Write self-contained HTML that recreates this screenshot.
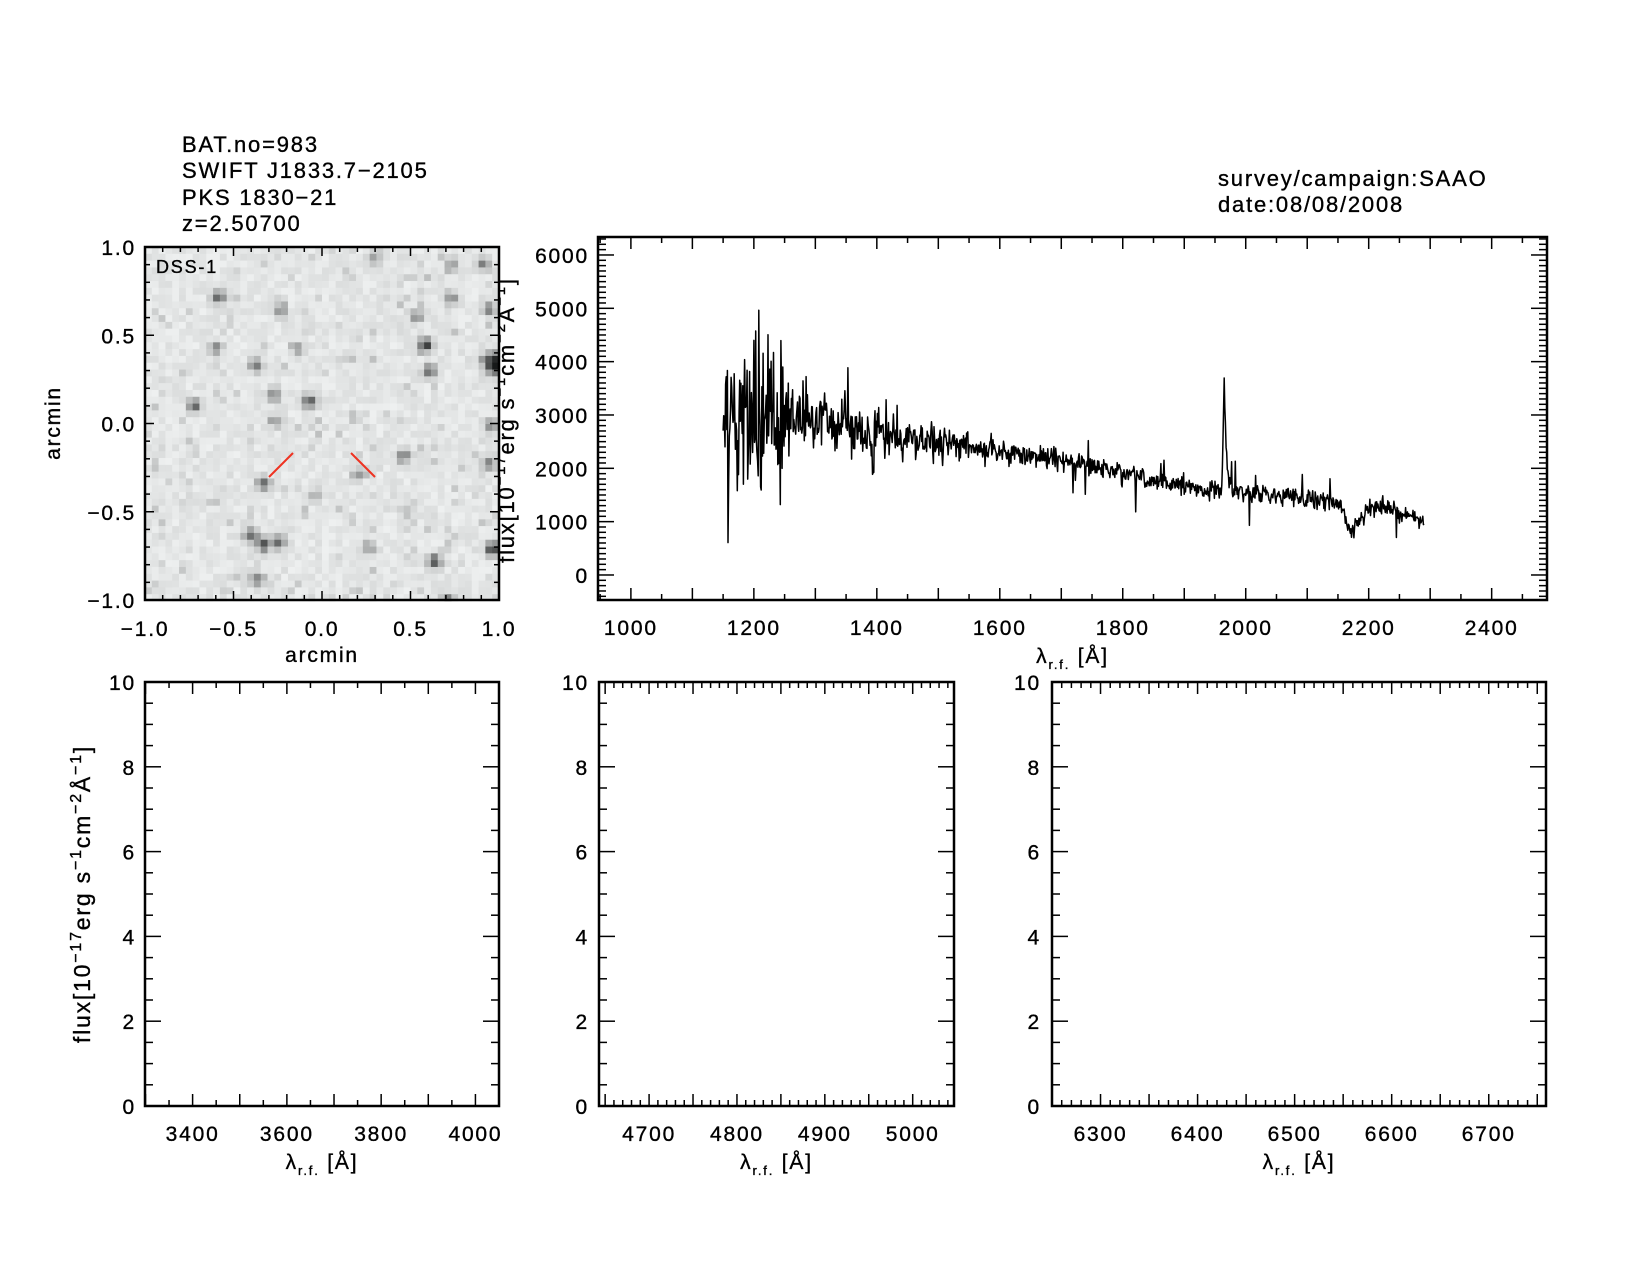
<!DOCTYPE html>
<html><head><meta charset="utf-8">
<style>
html,body{margin:0;padding:0;background:#fff;}
svg{display:block;}
text{font-family:"Liberation Sans",sans-serif;fill:#000;stroke:#000;stroke-width:0.35;letter-spacing:1.8px;}
</style></head>
<body>
<svg id="s" width="1650" height="1275" xmlns="http://www.w3.org/2000/svg">
<g font-size="22">
<text x="182" y="152">BAT.no=983</text>
<text x="182" y="178">SWIFT J1833.7−2105</text>
<text x="182" y="205">PKS 1830−21</text>
<text x="182" y="231">z=2.50700</text>
<text x="1218" y="186">survey/campaign:SAAO</text>
<text x="1218" y="212">date:08/08/2008</text>
</g>
<text font-size="22" transform="translate(514,420) rotate(-90)" text-anchor="middle">flux[10<tspan dy="-9" font-size="15">−17</tspan><tspan dy="9">erg s</tspan><tspan dy="-9" font-size="15">−1</tspan><tspan dy="9">cm</tspan><tspan dy="-9" font-size="15">−2</tspan><tspan dy="9">Å</tspan><tspan dy="-9" font-size="15">−1</tspan><tspan dy="9">]</tspan></text>
<text font-size="23" transform="translate(90,894) rotate(-90)" text-anchor="middle">flux[10<tspan dy="-9" font-size="16">−17</tspan><tspan dy="9">erg s</tspan><tspan dy="-9" font-size="16">−1</tspan><tspan dy="9">cm</tspan><tspan dy="-9" font-size="16">−2</tspan><tspan dy="9">Å</tspan><tspan dy="-9" font-size="16">−1</tspan><tspan dy="9">]</tspan></text>
<g id="g"></g>
</svg>
<script>
var NS="http://www.w3.org/2000/svg",G=document.getElementById('g');
function el(t,a,p){var e=document.createElementNS(NS,t);for(var k in a)e.setAttribute(k,a[k]);(p||G).appendChild(e);return e;}
function tx(x,y,s,a,fs){var e=el('text',{x:x,y:y,'font-size':fs||21,'text-anchor':a||'middle'});e.textContent=s;return e;}
var seed=12345;function rnd(){seed=(seed*16807)%2147483647;return seed/2147483647;}
function gauss(){return (rnd()+rnd()+rnd()+rnd()-2)*1.2;}
/* DSS image */
var L=145,T=247,W=354,H=353,N=52,ps=W/N;
var stars=[[208,282,.6],[267,295,.45],[205,330,.5],[243,347,.55],[260,375,.5],[294,381,.75],[185,385,.6],[404,327,.85],[408,352,.6],[470,345,1.1],[384,432,.5],[250,459,.6],[238,508,.6],[250,517,.7],[265,515,.6],[244,550,.5],[413,533,.75],[468,522,.85],[428,283,.4],[465,293,.5],[430,250,.35],[459,250,.5],[355,245,.35],[466,404,.4],[465,440,.5],[340,450,.35],[425,570,.5],[395,300,.4],[283,330,.3],[262,400,.35],[300,470,.3],[350,520,.35]];
var img=el('g',{});
for(var i=0;i<N;i++)for(var j=0;j<N;j++){
 var v=0.0+rnd()*0.09+(rnd()<0.12?rnd()*0.15:0);
 var cx=L+(i+.5)*ps,cy=T+(j+.5)*ps;
 for(var k=0;k<stars.length;k++){var sx=L+(stars[k][0]-138)/336*W,sy=T+(stars[k][1]-234)/336*H;var d2=((cx-sx)*(cx-sx)+(cy-sy)*(cy-sy))/(ps*ps);v+=stars[k][2]*Math.exp(-d2/(stars[k][2]>0.9?2.2:0.9));}
 if(v>1)v=1;var c=Math.round(240-v*215);
 el('rect',{x:(L+i*ps).toFixed(2),y:(T+j*ps).toFixed(2),width:(ps+.3).toFixed(2),height:(ps+.3).toFixed(2),fill:'rgb('+(c-2)+','+c+','+c+')'},img);
}
el('line',{x1:293,y1:453,x2:269,y2:477,stroke:'#e32',"stroke-width":2});
el('line',{x1:351,y1:453,x2:375,y2:477,stroke:'#e32',"stroke-width":2});
var t=tx(156,273,'DSS-1','start',18);
el('rect',{x:L,y:T,width:W,height:H,fill:'none',stroke:'#000','stroke-width':2.5});
for(var a=-1;a<=1.001;a+=0.1){var ma=Math.abs(Math.round(a*10)%5)==0,len=ma?9:5;
 var x=L+(a+1)/2*W,y=T+H-(a+1)/2*H;
 el('line',{x1:x,y1:T+H,x2:x,y2:T+H-len,stroke:'#000','stroke-width':1.5});
 el('line',{x1:x,y1:T,x2:x,y2:T+len,stroke:'#000','stroke-width':1.5});
 el('line',{x1:L,y1:y,x2:L+len,y2:y,stroke:'#000','stroke-width':1.5});
 el('line',{x1:L+W,y1:y,x2:L+W-len,y2:y,stroke:'#000','stroke-width':1.5});
}
['−1.0','−0.5','0.0','0.5','1.0'].forEach(function(s,i){
 tx(L+i*W/4,636,s);tx(136,T+H-i*H/4+8,s,'end');});
tx(322,662,'arcmin');
var ay=el('text',{transform:'translate(60,423) rotate(-90)','text-anchor':'middle','font-size':21});ay.textContent='arcmin';
/* axis helper */
function box(l,t,r,b,xmin,xmax,ymin,ymax,xminor,xmajor,yminor,ymajor,xlab,ylab,xfmt,ylx){
 el('rect',{x:l,y:t,width:r-l,height:b-t,fill:'none',stroke:'#000','stroke-width':2.5});
 var fx=function(v){return l+(v-xmin)/(xmax-xmin)*(r-l)},fy=function(v){return b-(v-ymin)/(ymax-ymin)*(b-t)};
 for(var v=Math.ceil(xmin/xminor)*xminor;v<=xmax;v+=xminor){var ma=Math.abs(v%xmajor)<1e-6,len=ma?12:6,x=fx(v);
  el('line',{x1:x,y1:b,x2:x,y2:b-len,stroke:'#000','stroke-width':1.5});el('line',{x1:x,y1:t,x2:x,y2:t+len,stroke:'#000','stroke-width':1.5});}
 for(var v=Math.ceil(ymin/yminor)*yminor;v<=ymax;v+=yminor){var ma=Math.abs(v%ymajor)<1e-6,len=ma?16:8,y=fy(v);
  el('line',{x1:l,y1:y,x2:l+len,y2:y,stroke:'#000','stroke-width':1.5});el('line',{x1:r,y1:y,x2:r-len,y2:y,stroke:'#000','stroke-width':1.5});}
 xlab.forEach(function(v){tx(fx(v),b+35,String(v));});
 ylab.forEach(function(v){tx(ylx,fy(v)+8,String(v),'end');});
 var lx=el('text',{x:(l+r)/2,y:b+63,'text-anchor':'middle','font-size':21});
 lx.innerHTML='λ<tspan dy="6" font-size="13">r.f.</tspan><tspan dy="-6"> [Å]</tspan>';
 return [fx,fy];
}
var sp=box(598,237,1547,600,946.5,2490,-469,6337,50,100,100,1000,[1000,1200,1400,1600,1800,2000,2200,2400],[0,1000,2000,3000,4000,5000,6000],null,589);
var yl=[0,2,4,6,8,10];
box(145,682,499,1106,3299,4050,0,10,50,100,0.5,2,[3400,3600,3800,4000],yl,null,136);
box(599,682,954,1106,4643,5047,0,10,10,50,0.5,2,[4700,4800,4900,5000],yl,null,589);
box(1052,682,1546,1106,6250,6759,0,10,10,50,0.5,2,[6300,6400,6500,6600,6700],yl,null,1041);
/* spectrum */
function cont(w){var P=[[1150,3000],[1250,3050],[1350,2800],[1450,2550],[1550,2400],[1650,2250],[1750,2050],[1850,1750],[1950,1600],[2000,1550],[2100,1450],[2150,1350],[2160,1150],[2170,800],[2180,950],[2200,1250],[2220,1350],[2250,1150],[2290,1000]];
 for(var i=0;i<P.length-1;i++)if(w<=P[i+1][0]){var f=(w-P[i][0])/(P[i+1][0]-P[i][0]);return P[i][1]+f*(P[i+1][1]-P[i][1]);}return 1000;}
var d='';
for(var w=1150;w<=2290;w+=1){
 var n=w<1250?1300:(w<1300?800:(w<1400?450:(w<1550?320:(w<1800?200:170))));
 var f=cont(w)+gauss()*n*0.7;
 if(w<1250&&rnd()<0.25)f+= (rnd()<0.5?-1:1)*1700*rnd();
 if(rnd()<0.02)f+=(rnd()<0.5?-1:1)*500;
 var e=w-1965;if(e>-4&&e<14)f+=(e<0?2000*(1+e/4):2100*Math.exp(-e/3.5));
 if(Math.abs(w-1393)<3)f-=700;
 var x=sp[0](w),y=sp[1](f);d+=(d?'L':'M')+x.toFixed(1)+' '+y.toFixed(1);
}
el('path',{d:d,fill:'none',stroke:'#000','stroke-width':1.5,'stroke-linejoin':'round'});
</script>
</body></html>
